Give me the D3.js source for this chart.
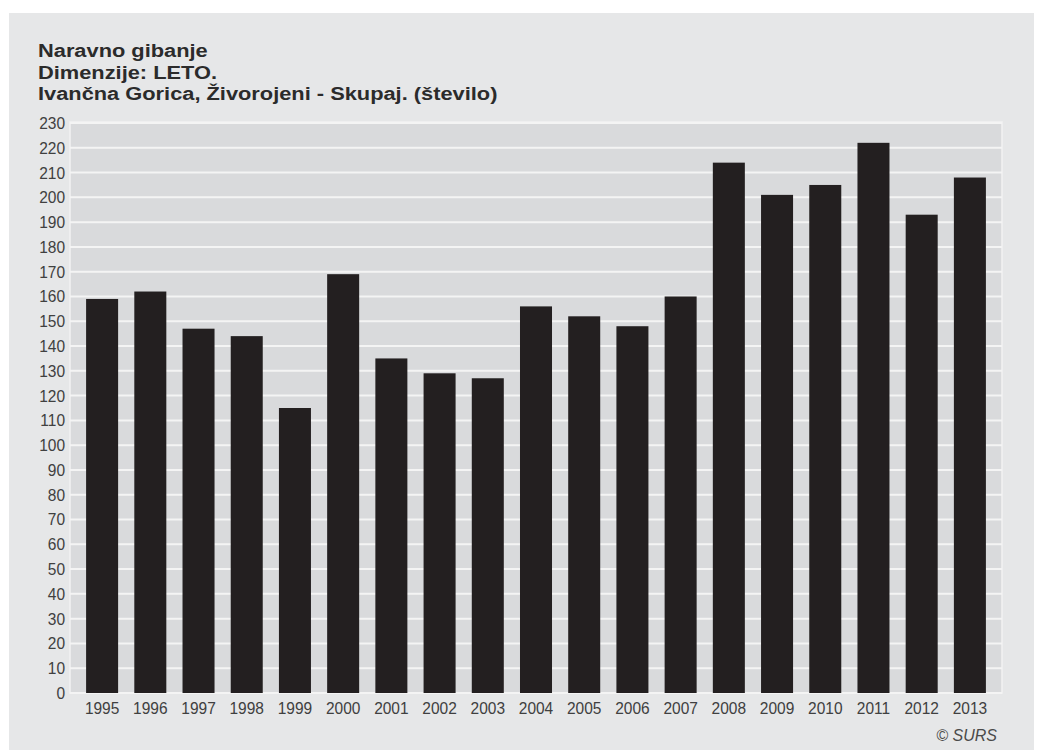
<!DOCTYPE html>
<html>
<head>
    <meta charset="utf-8" />
    <title>Naravno gibanje</title>
    <style>
        body { margin: 0; background: #fff; }
        text { font-family: "Liberation Sans", Arial, sans-serif; }
    </style>
</head>
<body>
    <div id="chart"></div>
    <script src="https://cdn.jsdelivr.net/npm/d3@7/dist/d3.min.js"></script>
    <script>
        // data
        var years = ["1995", "1996", "1997", "1998", "1999", "2000", "2001", "2002", "2003", "2004",
            "2005", "2006", "2007", "2008", "2009", "2010", "2011", "2012", "2013"];
        var births = [159, 162, 147, 144, 115, 169, 135, 129, 127, 156,
            152, 148, 160, 214, 201, 205, 222, 193, 208];
        var yTicks = [0, 10, 20, 30, 40, 50, 60, 70, 80, 90, 100, 110, 120,
            130, 140, 150, 160, 170, 180, 190, 200, 210, 220, 230];
        var titleLines = [
            "Naravno gibanje",
            "Dimenzije: LETO.",
            "Ivančna Gorica, Živorojeni - Skupaj. (število)"
        ];
        var source = "© SURS";

        var options = {
            width: 1042,
            height: 751,
            plot: { left: 70, right: 1002, top: 123, bottom: 693 }
        };
        var plot = options.plot;

        var svg = d3.select("#chart")
            .append("svg")
            .attr("width", options.width)
            .attr("height", options.height);

        // outer panel
        svg.append("rect")
            .attr("x", 9).attr("y", 13)
            .attr("width", 1025).attr("height", 737)
            .attr("fill", "#e6e7e8");

        var x = d3.scaleBand()
            .domain(years)
            .range([78, 994])
            .paddingInner(0.336)
            .paddingOuter(0.168);
        var y = d3.scaleLinear()
            .domain([0, 230])
            .range([plot.bottom, plot.top]);

        // plot background
        svg.append("rect")
            .attr("x", plot.left).attr("y", plot.top - 1)
            .attr("width", plot.right - plot.left)
            .attr("height", plot.bottom - plot.top + 1)
            .attr("fill", "#d9dadc")
            .attr("stroke", "#f2f2f2")
            .attr("stroke-width", 1.5);

        // grid
        svg.append("g")
            .selectAll("line")
            .data(yTicks)
            .join("line")
            .attr("x1", plot.left).attr("x2", plot.right)
            .attr("y1", d => y(d)).attr("y2", d => y(d))
            .attr("stroke", "#f4f4f4")
            .attr("stroke-width", 2);

        // bars
        svg.append("g")
            .selectAll("rect")
            .data(births)
            .join("rect")
            .attr("x", (d, i) => x(years[i]))
            .attr("width", x.bandwidth())
            .attr("y", d => y(d))
            .attr("height", d => y(0) - y(d))
            .attr("fill", "#231f20");

        // axes (labels look a little taller than wide in the picture)
        var yAxis = d3.axisLeft(y).tickValues(yTicks).tickSize(0).tickPadding(5);
        var gy = svg.append("g")
            .attr("transform", "translate(" + plot.left + ",0)")
            .call(yAxis);
        var xAxis = d3.axisBottom(x).tickSize(0).tickPadding(8);
        var gx = svg.append("g")
            .attr("transform", "translate(0," + plot.bottom + ")")
            .call(xAxis);
        [gx, gy].forEach(function (g) {
            g.select(".domain").remove();
            g.selectAll("text")
                .attr("transform", "scale(1,1.1)")
                .attr("fill", "#404040")
                .style("font-size", "15.5px");
        });

        // title (wide bold)
        var titleBase = [57, 79, 100];
        titleLines.forEach(function (t, i) {
            svg.append("g")
                .attr("transform", "translate(38," + titleBase[i] + ")")
                .append("text")
                .attr("transform", "scale(1.18,1)")
                .attr("fill", "#2b2b2b")
                .style("font-size", "18.5px")
                .style("font-weight", "bold")
                .text(t);
        });

        // source
        svg.append("text")
            .attr("x", 997).attr("y", 741)
            .attr("text-anchor", "end")
            .attr("fill", "#4a4a4a")
            .style("font-size", "16px")
            .style("font-style", "italic")
            .text(source);
    </script>
</body>
</html>
